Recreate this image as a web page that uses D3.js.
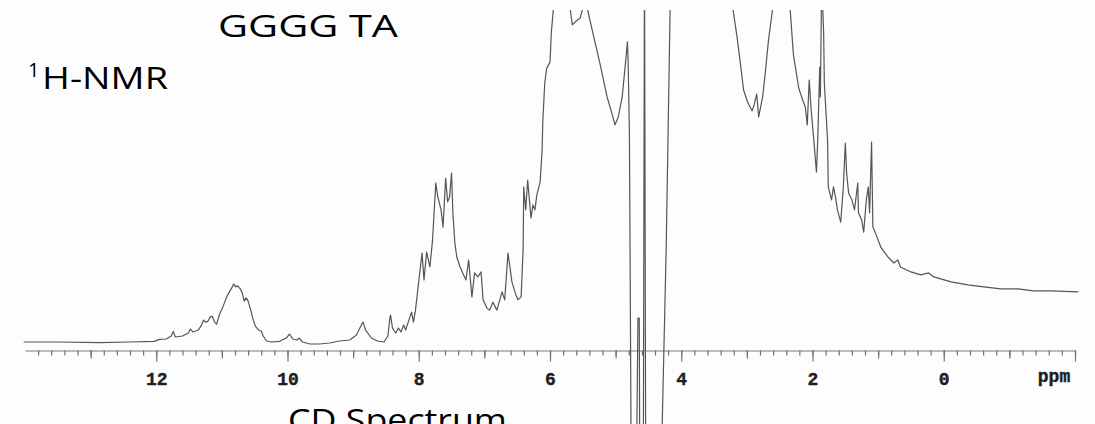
<!DOCTYPE html>
<html>
<head>
<meta charset="utf-8">
<script src="https://cdn.jsdelivr.net/npm/d3@7"></script>
<style>
  html, body { margin: 0; padding: 0; background: #fdfdfd; }
  svg { display: block; }
</style>
</head>
<body>
<svg id="chart" width="1095" height="424"></svg>
<script>
// chemical shift (ppm) of each traced point, left to right
const shift = [
  14.02, 13.48, 12.87, 12.41, 12.03, 11.95, 11.85, 11.77, 11.74, 11.71,
  11.60, 11.51, 11.48, 11.44, 11.36, 11.31, 11.28, 11.25, 11.21, 11.18,
  11.15, 11.11, 11.08, 11.04, 10.98, 10.92, 10.85, 10.82, 10.79, 10.76,
  10.72, 10.69, 10.66, 10.63, 10.60, 10.56, 10.53, 10.49, 10.44, 10.40,
  10.37, 10.32, 10.24, 10.12, 10.02, 9.97, 9.92, 9.86, 9.82, 9.77,
  9.66, 9.51, 9.36, 9.21, 9.05, 8.95, 8.89, 8.85, 8.81, 8.72,
  8.63, 8.53, 8.47, 8.44, 8.43, 8.40, 8.35, 8.31, 8.27, 8.23,
  8.20, 8.15, 8.11, 8.08, 8.05, 8.02, 7.95, 7.92, 7.88, 7.83,
  7.79, 7.74, 7.71, 7.66, 7.63, 7.59, 7.56, 7.53, 7.50, 7.48,
  7.45, 7.42, 7.37, 7.33, 7.28, 7.24, 7.19, 7.15, 7.10, 7.05,
  7.02, 6.96, 6.92, 6.87, 6.81, 6.73, 6.69, 6.64, 6.58, 6.53,
  6.49, 6.44, 6.41, 6.40, 6.37, 6.34, 6.29, 6.26, 6.23, 6.20,
  6.15, 6.12, 6.11, 6.08, 6.05, 6.00, 5.98, 5.95, 5.91, 5.76,
  5.69, 5.66, 5.60, 5.54, 5.50, 5.47, 5.42, 5.34, 5.24, 5.13,
  5.05, 5.01, 4.96, 4.90, 4.85, 4.82, 4.81, 4.79, 4.78, 4.76,
  4.69, 4.66, 4.64, 4.63, 4.58, 4.56, 4.54, 4.32, 4.29, 4.23,
  4.17, 4.14, 3.25, 3.21, 3.15, 3.10, 3.05, 2.99, 2.92, 2.89,
  2.85, 2.82, 2.76, 2.72, 2.67, 2.61, 2.56, 2.38, 2.34, 2.29,
  2.21, 2.15, 2.11, 2.08, 2.05, 2.02, 1.98, 1.94, 1.92, 1.89,
  1.88, 1.86, 1.83, 1.82, 1.77, 1.76, 1.71, 1.68, 1.65, 1.62,
  1.57, 1.53, 1.50, 1.48, 1.45, 1.40, 1.36, 1.31, 1.30, 1.25,
  1.22, 1.18, 1.15, 1.13, 1.10, 1.08, 1.04, 0.96, 0.85, 0.76,
  0.70, 0.66, 0.50, 0.35, 0.23, 0.15, -0.11, -0.37, -0.61, -0.87,
  -1.13, -1.37, -1.63, -2.05
];

// relative intensity (0 = baseline, 100 = top of plot; larger values are off scale)
const intensity = [
  0, 0, -0.2, 0, 0.2, 0.8, 0.9, 1.8, 3.2, 1.5,
  1.8, 2.7, 3.9, 3.0, 3.6, 5.1, 6.6, 6.0, 6.3, 7.5,
  7.8, 6.0, 5.4, 8.1, 10.8, 13.9, 16.3, 17.5, 16.6, 16.9,
  16.0, 14.8, 12.3, 13.3, 12.3, 9.6, 7.2, 4.8, 3.6, 3.3,
  1.8, 0.3, 0, 0.2, 1.2, 2.4, 0.9, 0.6, 1.2, 0,
  -0.6, -0.6, -0.3, 0.3, 0.6, 2.1, 4.5, 6.0, 3.6, 1.2,
  0.3, 0, 1.8, 7.2, 8.1, 4.2, 2.7, 4.2, 3.0, 5.1,
  3.6, 6.6, 9.0, 6.0, 9.6, 14.8, 26.8, 18.7, 27.1, 22.6,
  30.7, 47.9, 43.7, 39.8, 34.6, 49.4, 42.2, 43.7, 50.9, 38.9,
  29.8, 25.6, 22.6, 20.8, 18.7, 24.7, 13.6, 20.8, 19.6, 21.1,
  12.7, 10.2, 9.6, 12.0, 9.6, 15.1, 12.7, 26.8, 18.1, 14.8,
  12.7, 13.6, 27.7, 46.7, 39.8, 48.8, 37.3, 41.3, 39.8, 44.3,
  48.2, 57.8, 66.3, 78.0, 82.5, 84.3, 93.1, 100, 112, 109,
  100, 95.5, 96.7, 97.6, 100.6, 106, 99.4, 92.5, 84.0, 73.8,
  68.4, 65.4, 67.8, 73.8, 84.0, 90.4, 84.9, 63.0, 27.7, -47.6,
  -53.6, 7.2, 7.2, -47.6, -53.6, 118, -53.6, -53.6, -24.7, 27.7,
  100, 121, 121, 100, 91.9, 84.0, 75.9, 72.3, 69.6, 71.4,
  74.7, 67.8, 73.8, 81.0, 91.0, 100, 115, 115, 100, 86.4,
  76.5, 72.9, 70.8, 65.4, 78.9, 69.9, 60.8, 51.2, 60.8, 82.8,
  73.8, 109, 93.1, 78.0, 60.8, 46.7, 42.8, 46.7, 43.7, 39.8,
  36.1, 46.7, 59.9, 50.9, 44.9, 42.8, 39.8, 47.9, 38.9, 36.7,
  33.1, 42.8, 46.7, 38.9, 60.2, 34.6, 32.8, 28.6, 25.6, 23.8,
  24.7, 22.6, 21.1, 20.2, 20.8, 19.6, 18.1, 17.2, 16.6, 16.0,
  16.0, 15.4, 15.4, 15.1
];

const majorTicks = [12, 10, 8, 6, 4, 2, 0, -2];
const majorLabels = ['12', '10', '8', '6', '4', '2', '0', ''];
const mediumTicks = [13, 11, 9, 7, 5, 3, 1, -1];
const minorTicks = d3.range(69, -11, -1).map((d) => d / 5);

const title = 'GGGG TA';
const subtitle = 'H-NMR';
const footer = 'CD Spectrum';
const unitLabel = 'ppm';

const width = 1095;
const height = 424;
const axisY = 350.5;
const labelFont = '"Liberation Mono", "DejaVu Sans Mono", monospace';

const svg = d3.select('#chart');

svg.append('rect')
  .attr('width', width)
  .attr('height', height)
  .attr('fill', '#fdfdfd');

const x = d3.scaleLinear()
  .domain([14, -2])
  .range([25, 1075]);

const y = d3.scaleLinear()
  .domain([0, 100])
  .range([342, 10]);

// axis with three tick lengths
const minorAxis = d3.axisBottom(x)
  .tickValues(minorTicks)
  .tickSize(5)
  .tickSizeOuter(0)
  .tickFormat('');

const mediumAxis = d3.axisBottom(x)
  .tickValues(mediumTicks)
  .tickSize(8)
  .tickFormat('');

const majorAxis = d3.axisBottom(x)
  .tickValues(majorTicks)
  .tickSize(11)
  .tickPadding(11)
  .tickFormat((d, i) => majorLabels[i]);

const gMinor = svg.append('g')
  .attr('transform', `translate(0,${axisY})`)
  .call(minorAxis);

svg.append('g')
  .attr('transform', `translate(0,${axisY})`)
  .call(mediumAxis)
  .call((g) => g.select('.domain').remove());

const gMajor = svg.append('g')
  .attr('transform', `translate(0,${axisY})`)
  .call(majorAxis)
  .call((g) => g.select('.domain').remove());

svg.selectAll('.tick line')
  .attr('stroke', '#707070')
  .attr('stroke-width', 1.2);

gMinor.select('.domain')
  .attr('stroke', '#7a7a7a')
  .attr('stroke-width', 1.2);

gMajor.selectAll('.tick text')
  .attr('fill', '#1e1e1e')
  .attr('stroke', '#1e1e1e')
  .attr('stroke-width', 0.4)
  .attr('font-family', labelFont)
  .attr('font-weight', 'bold')
  .attr('font-size', 18);

svg.append('text')
  .attr('x', x(-1.68))
  .attr('y', 382)
  .attr('text-anchor', 'middle')
  .attr('fill', '#1e1e1e')
  .attr('stroke', '#1e1e1e')
  .attr('stroke-width', 0.4)
  .attr('font-family', labelFont)
  .attr('font-weight', 'bold')
  .attr('font-size', 18)
  .text(unitLabel);

// spectrum trace, clipped at the top of the plot
svg.append('clipPath')
  .attr('id', 'plot-clip')
  .append('rect')
  .attr('x', 0)
  .attr('y', 10)
  .attr('width', width)
  .attr('height', height - 10);

const points = shift.map((d, i) => [d, intensity[i]]);

const line = d3.line()
  .x((d) => x(d[0]))
  .y((d) => y(d[1]));

svg.append('path')
  .datum(points)
  .attr('clip-path', 'url(#plot-clip)')
  .attr('fill', 'none')
  .attr('stroke', '#555')
  .attr('stroke-width', 1.2)
  .attr('stroke-linejoin', 'round')
  .attr('d', line);

// titles
const textFont = '"Open Sans", "Noto Sans", sans-serif';

svg.append('text')
  .attr('x', 218)
  .attr('y', 37)
  .attr('font-family', textFont)
  .attr('font-size', 31)
  .attr('textLength', 180)
  .attr('lengthAdjust', 'spacingAndGlyphs')
  .attr('fill', '#000')
  .text(title);

svg.append('text')
  .attr('x', 28)
  .attr('y', 77)
  .attr('font-family', textFont)
  .attr('font-size', 20)
  .attr('fill', '#000')
  .text('1');

svg.append('text')
  .attr('x', 42)
  .attr('y', 89)
  .attr('font-family', textFont)
  .attr('font-size', 31)
  .attr('textLength', 126)
  .attr('lengthAdjust', 'spacingAndGlyphs')
  .attr('fill', '#000')
  .text(subtitle);

// the reference crops this caption at the bottom edge
svg.append('text')
  .attr('x', 288)
  .attr('y', 431)
  .attr('font-family', textFont)
  .attr('font-size', 31)
  .attr('textLength', 219)
  .attr('lengthAdjust', 'spacingAndGlyphs')
  .attr('fill', '#000')
  .text(footer);
</script>
</body>
</html>
